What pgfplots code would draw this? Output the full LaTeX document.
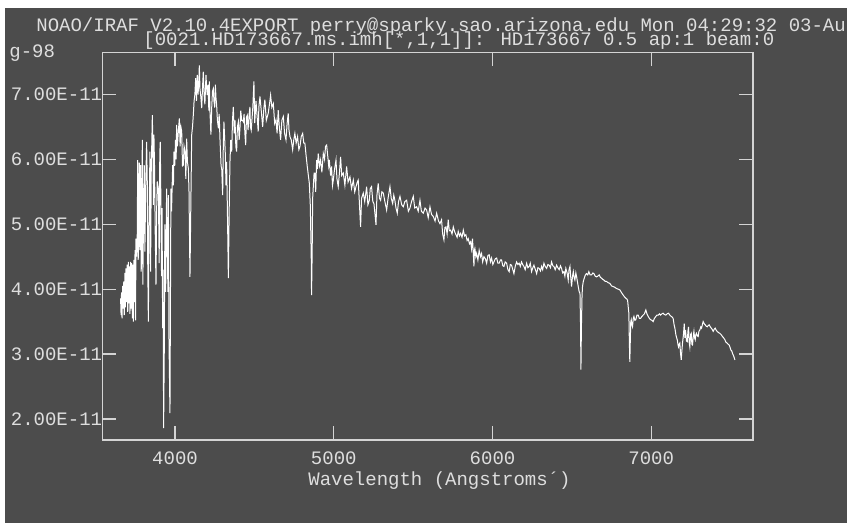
\documentclass[border=0pt]{standalone}
\usepackage{pgfplots}
\pgfplotsset{compat=1.18}
\usepackage{fontspec}
\setmainfont{Liberation Mono}
\definecolor{bg}{RGB}{76,76,76}
\definecolor{ax}{RGB}{212,212,212}
\definecolor{tx}{RGB}{222,222,222}
\begin{document}
\fontsize{9.5}{11}\selectfont
\begin{tikzpicture}
\useasboundingbox (0,0) rectangle (423.5pt,261.5pt);
\fill[white] (0,0) rectangle (423.5pt,261.5pt);
\fill[bg] (2.5pt,0) rectangle (423.5pt,257.5pt);
\node[anchor=base west,inner sep=0pt,text=tx] at (18pt,245.75pt) {NOAO/IRAF V2.10.4EXPORT perry@sparky.sao.arizona.edu Mon 04:29:32 03-Au};
\node[anchor=base west,inner sep=0pt,text=tx] at (71.5pt,238.75pt) {[0021.HD173667.ms.imh[*,1,1]]: HD173667 0.5 ap:1 beam:0};
\node[anchor=base west,inner sep=0pt,text=tx] at (4.5pt,232.75pt) {g-98};
\node[anchor=base,inner sep=0pt,text=tx] at (219.75pt,18.75pt) {Wavelength (Angstroms´)};
\begin{axis}[
  at={(51.25pt,41.5pt)}, anchor=south west,
  scale only axis, width=325.25pt, height=193.65pt,
  xmin=3543, xmax=7641, ymin=1.676, ymax=7.644,
  axis line style={ax, line width=0.6pt},
  every tick/.style={ax, line width=0.6pt},
  major tick length=6.75pt,
  xtick={4000,5000,6000,7000},
  xticklabels={4000,5000,6000,7000},
  ytick={2,3,4,5,6,7},
  yticklabels={2.00E-11,3.00E-11,4.00E-11,5.00E-11,6.00E-11,7.00E-11},
  xticklabel style={text=tx, anchor=north, inner sep=0pt, yshift=-5.75pt},
  yticklabel style={text=tx, anchor=east, inner sep=0pt},
  scaled x ticks=false,
]
\addplot[white, line width=0.5pt] coordinates {
(3657,3.86)(3660,3.60)(3663,3.95)(3666,3.55)(3670,4.05)(3674,3.70)(3677,4.12)(3680,3.60)
(3684,4.25)(3687,3.72)(3691,4.32)(3695,3.80)(3698,4.38)(3702,3.65)(3706,4.42)(3709,3.78)
(3713,4.35)(3716,3.62)(3720,4.42)(3724,3.70)(3727,4.40)(3731,3.55)(3734,4.38)(3737,3.50)
(3741,4.45)(3745,3.80)(3748,4.60)(3751,3.52)(3754,4.78)(3758,4.50)(3762,4.85)(3765,5.99)
(3768,4.45)(3772,4.90)(3775,5.95)(3779,4.60)(3783,5.91)(3787,4.27)(3790,5.20)(3794,6.30)
(3797,4.07)(3801,5.00)(3806,5.91)(3810,4.58)(3815,5.55)(3821,6.27)(3825,5.66)(3828,4.40)
(3832,3.50)(3836,5.00)(3842,6.12)(3846,4.27)(3850,5.80)(3857,6.68)(3861,6.07)(3864,5.30)
(3867,6.38)(3871,5.86)(3875,4.90)(3880,4.07)(3884,5.20)(3888,5.66)(3895,5.55)(3900,4.40)
(3904,6.10)(3907,6.27)(3911,5.30)(3915,4.20)(3918,5.25)(3922,3.40)(3925,4.30)(3928,1.86)
(3932,3.00)(3936,5.00)(3941,3.96)(3947,5.55)(3951,4.80)(3955,3.96)(3958,5.45)(3962,3.20)
(3968,2.09)(3971,3.80)(3974,5.55)(3978,5.20)(3985,5.91)(3990,5.60)(3993,6.12)(3998,5.90)
(4003,6.30)(4007,6.00)(4010,6.53)(4015,6.20)(4020,6.40)(4027,6.63)(4032,6.20)(4037,6.50)
(4042,6.43)(4047,5.90)(4052,5.91)(4057,6.20)(4063,6.12)(4068,5.70)(4073,6.32)(4078,5.96)
(4084,5.86)(4088,5.50)(4094,4.19)(4099,5.20)(4105,6.38)(4110,6.50)(4115,6.68)(4120,6.90)
(4125,7.00)(4130,7.25)(4135,6.90)(4140,7.30)(4145,7.00)(4150,7.20)(4153,7.45)(4157,7.09)
(4163,6.95)(4168,6.79)(4173,7.10)(4178,7.35)(4183,7.00)(4188,6.85)(4195,7.30)(4199,7.10)
(4203,6.99)(4208,7.15)(4213,6.75)(4216,7.20)(4220,6.74)(4226,6.38)(4231,6.80)(4236,7.05)
(4241,7.09)(4245,6.90)(4250,6.80)(4254,7.15)(4258,6.95)(4262,6.84)(4267,6.60)(4273,6.48)
(4278,6.70)(4283,6.32)(4290,5.90)(4294,5.86)(4300,5.45)(4304,6.20)(4308,6.58)(4313,6.30)
(4317,6.07)(4321,5.60)(4325,5.96)(4330,5.20)(4336,4.17)(4341,5.20)(4346,5.96)(4351,6.30)
(4357,6.12)(4362,6.60)(4367,6.81)(4373,6.40)(4378,6.60)(4383,6.20)(4388,6.12)(4393,6.50)
(4399,6.58)(4404,6.30)(4409,6.48)(4414,6.75)(4420,6.60)(4425,6.60)(4430,6.58)(4435,6.70)
(4440,6.40)(4445,6.22)(4450,6.65)(4455,6.68)(4460,6.45)(4467,6.70)
(4472,6.81)(4475,6.50)(4480,6.45)(4490,6.80)(4497,7.20)(4502,6.56)(4510,6.90)(4524,6.43)
(4528,6.80)(4535,6.97)(4545,6.70)(4552,6.50)(4560,6.80)(4566,6.92)(4575,6.60)(4587,6.71)
(4595,6.85)(4602,6.99)(4610,6.80)(4619,6.86)(4628,6.55)(4636,6.61)(4643,6.40)(4650,6.76)
(4657,6.50)(4665,6.30)(4673,6.60)(4682,6.66)(4690,6.40)(4699,6.30)(4706,6.55)(4713,6.71)
(4718,6.45)(4724,6.35)(4732,6.30)(4741,6.15)(4748,6.30)(4755,6.40)(4763,6.25)(4772,6.35)
(4780,6.15)(4787,6.20)(4795,6.35)(4804,6.40)(4811,6.25)(4818,6.25)(4826,6.05)(4833,5.89)
(4840,5.75)(4846,5.63)(4852,5.30)(4858,4.50)(4860,3.91)(4864,4.60)(4867,5.40)(4871,5.58)
(4876,5.79)(4881,5.79)(4886,5.50)(4892,5.99)(4897,5.85)(4902,6.09)(4910,5.90)(4917,5.99)
(4925,5.80)(4934,6.09)(4942,6.00)(4948,6.20)(4955,6.22)(4962,6.05)(4968,5.90)(4972,5.99)
(4980,5.75)(4986,5.89)(4992,5.60)(4997,5.68)(5005,5.85)(5014,5.99)(5020,5.70)(5028,5.58)
(5036,5.80)(5043,6.04)(5050,5.75)(5060,5.79)(5070,5.60)(5081,5.89)(5090,5.65)(5102,5.73)
(5112,5.55)(5123,5.68)(5132,5.50)(5140,5.58)(5148,5.65)(5154,5.68)(5160,5.40)(5166,5.10)
(5169,4.96)(5175,5.40)(5186,5.48)(5195,5.35)(5207,5.58)(5215,5.30)(5224,5.37)(5230,5.55)
(5238,5.58)(5246,5.35)(5253,5.32)(5260,5.15)(5266,4.99)(5272,5.45)(5280,5.63)(5288,5.40)
(5295,5.37)(5303,5.50)(5312,5.48)(5322,5.35)(5333,5.22)(5342,5.40)(5354,5.58)(5362,5.40)
(5371,5.32)(5378,5.45)(5385,5.37)(5392,5.25)(5400,5.17)(5408,5.35)(5417,5.43)(5428,5.30)
(5438,5.27)(5448,5.35)(5459,5.37)(5470,5.20)(5480,5.25)(5490,5.35)(5501,5.43)(5510,5.25)
(5522,5.27)(5532,5.20)(5543,5.37)(5552,5.20)(5564,5.17)(5575,5.25)(5585,5.22)(5595,5.10)
(5606,5.27)(5616,5.15)(5627,5.12)(5638,5.05)(5648,5.17)(5660,5.05)(5669,5.01)
(5679,5.07)(5686,4.85)(5694,4.76)(5700,4.95)(5707,4.96)(5714,4.85)(5721,5.07)(5728,4.90)
(5736,4.91)(5745,4.85)(5753,4.96)(5762,4.88)(5770,4.84)(5777,4.80)(5784,4.89)(5792,4.82)
(5799,4.86)(5808,4.80)(5816,4.91)(5824,4.82)(5832,4.84)(5840,4.75)(5847,4.78)(5855,4.70)
(5862,4.73)(5868,4.62)(5874,4.78)(5880,4.50)(5883,4.35)(5886,4.60)(5889,4.63)(5895,4.50)
(5900,4.55)(5908,4.45)(5916,4.60)(5924,4.50)(5931,4.55)(5938,4.42)(5946,4.50)(5955,4.47)
(5963,4.40)(5971,4.52)(5979,4.53)(5987,4.42)(5994,4.48)(6002,4.38)(6009,4.42)(6018,4.47)
(6026,4.48)(6034,4.40)(6042,4.40)(6050,4.45)(6057,4.45)(6065,4.36)(6072,4.35)(6080,4.42)
(6089,4.40)(6097,4.30)(6105,4.27)(6112,4.38)(6120,4.37)(6128,4.30)(6135,4.24)(6143,4.35)
(6152,4.42)(6160,4.38)(6168,4.40)(6175,4.35)(6183,4.42)(6190,4.38)(6198,4.35)(6206,4.30)
(6215,4.40)(6223,4.33)(6231,4.35)(6238,4.40)(6246,4.27)(6254,4.33)(6261,4.37)(6270,4.30)
(6278,4.24)(6286,4.33)(6294,4.32)(6302,4.28)(6309,4.35)(6316,4.30)(6324,4.40)(6332,4.35)
(6341,4.32)(6349,4.38)(6357,4.37)(6365,4.33)(6372,4.42)(6380,4.36)(6387,4.35)(6395,4.30)
(6404,4.37)(6412,4.33)(6420,4.30)(6428,4.36)(6435,4.32)(6442,4.25)(6450,4.27)(6456,4.20)
(6462,4.32)(6470,4.25)(6477,4.14)(6482,4.30)(6488,4.35)(6493,4.18)(6498,4.04)(6504,4.20)
(6509,4.27)(6514,4.18)(6519,4.14)(6525,4.25)(6530,4.19)(6536,4.10)(6540,4.04)(6546,3.96)
(6551,3.94)(6555,3.40)(6557,2.76)(6560,3.40)(6564,3.90)(6567,4.04)(6572,4.12)(6578,4.17)
(6585,4.22)(6592,4.24)(6600,4.22)(6607,4.27)(6615,4.22)(6624,4.22)(6632,4.25)(6639,4.24)
(6647,4.20)(6655,4.19)(6663,4.20)(6672,4.22)(6680,4.18)(6687,4.17)(6695,4.15)(6702,4.14)
(6710,4.12)(6718,4.12)(6728,4.10)(6739,4.09)(6750,4.05)(6760,4.04)(6770,4.03)(6781,4.01)
(6792,4.00)(6802,3.99)(6812,3.95)(6823,3.91)(6832,3.88)(6840,3.86)(6846,3.85)(6851,3.83)
(6856,3.70)(6859,3.63)(6862,3.20)(6865,2.88)(6868,3.20)(6871,3.50)(6874,3.53)(6878,3.45)
(6882,3.42)(6887,3.55)(6891,3.58)(6897,3.52)(6903,3.53)(6910,3.60)(6918,3.60)(6925,3.55)
(6933,3.55)(6941,3.58)(6949,3.60)(6957,3.62)(6966,3.68)(6973,3.62)(6981,3.58)(6988,3.55)
(6996,3.53)(7004,3.52)(7012,3.50)(7020,3.55)(7029,3.58)(7036,3.60)(7044,3.60)(7052,3.62)
(7059,3.60)(7067,3.62)(7075,3.63)(7083,3.61)(7092,3.60)(7100,3.62)(7109,3.63)(7117,3.60)
(7126,3.58)(7132,3.57)(7138,3.55)(7144,3.45)(7149,3.40)(7155,3.30)(7160,3.25)(7164,3.22)
(7168,3.15)(7172,3.11)(7176,3.15)(7180,3.17)(7185,3.00)(7189,2.91)(7193,3.05)(7197,3.17)
(7203,3.30)(7208,3.47)(7212,3.25)(7216,3.37)(7222,3.20)(7227,3.19)(7231,3.35)(7235,3.42)
(7239,3.18)(7243,3.11)(7248,3.30)(7252,3.32)(7256,3.15)(7260,3.14)(7265,3.28)(7269,3.35)
(7273,3.25)(7277,3.22)(7281,3.30)(7285,3.32)(7290,3.28)(7296,3.27)(7300,3.35)(7306,3.37)
(7312,3.42)(7317,3.40)(7322,3.45)(7327,3.50)(7333,3.47)(7340,3.45)(7346,3.43)(7353,3.42)
(7359,3.44)(7365,3.45)(7372,3.42)(7378,3.40)(7384,3.38)(7390,3.35)(7396,3.38)(7403,3.40)
(7409,3.37)(7415,3.35)(7424,3.33)(7432,3.32)(7440,3.30)(7449,3.27)(7456,3.25)(7464,3.22)
(7471,3.18)(7478,3.17)(7485,3.15)(7491,3.14)(7497,3.10)(7502,3.06)(7507,3.05)(7512,3.01)
(7518,2.98)(7522,2.95)(7527,2.91)
};
\end{axis}
\end{tikzpicture}
\end{document}
